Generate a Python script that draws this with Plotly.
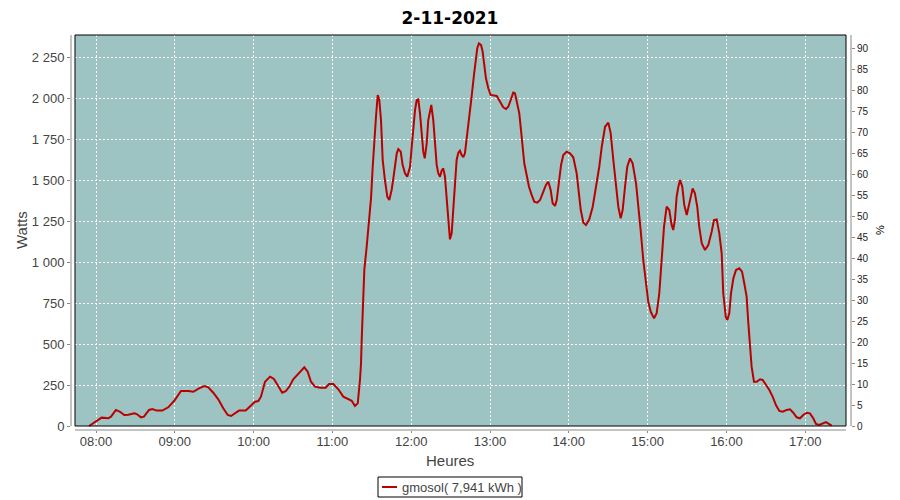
import pandas as pd
import plotly.graph_objects as go

# ---------------- data ----------------
chart_title = "2-11-2021"
series_name = "gmosol( 7,941 kWh )"
day = "2021-11-02"

# time of each sample, minutes after midnight
minutes_after_midnight = [
    474.7, 479.2, 484.3, 489.4, 491.4, 495.2, 498.3, 501.5, 504.6, 509.2,
    511.0, 514.3, 516.5, 520.4, 522.9, 526.2, 530.5, 535.0, 539.6, 544.7,
    550.3, 554.1, 558.4, 562.5, 565.5, 569.3, 573.1, 576.9, 580.3, 582.8,
    585.8, 588.9, 594.0, 598.5, 601.1, 603.6, 605.6, 608.7, 612.5, 615.5,
    618.8, 621.8, 624.4, 627.2, 630.2, 634.6, 638.6, 641.2, 643.7, 646.7,
    650.6, 654.9, 657.4, 660.7, 664.5, 668.3, 672.1, 674.7, 677.2, 679.3,
    681.0, 681.8, 682.3, 683.5, 684.3, 686.1, 687.9, 689.4, 690.7, 691.9,
    693.2, 694.5, 695.7, 697.0, 698.3, 700.0, 701.8, 703.3, 705.1, 706.4,
    707.7, 709.0, 710.2, 712.0, 713.5, 715.3, 717.0, 719.1, 720.4, 721.6,
    722.9, 724.2, 725.4, 726.7, 728.0, 729.2, 730.3, 731.8, 733.0, 734.3,
    735.3, 736.8, 738.3, 739.4, 740.6, 741.9, 743.2, 744.4, 745.7, 746.5,
    747.5, 748.8, 749.5, 750.8, 752.0, 753.3, 754.6, 755.9, 757.1, 758.4,
    759.7, 760.9, 762.2, 763.4, 764.8, 766.0, 767.8, 769.1, 770.3, 771.6,
    773.2, 774.4, 775.6, 776.9, 778.7, 780.5, 785.1, 787.6, 790.1, 792.2,
    793.9, 795.8, 797.7, 799.0, 800.8, 802.3, 803.6, 804.9, 806.1, 807.9,
    809.7, 811.7, 813.7, 816.0, 818.1, 820.6, 822.6, 824.4, 826.2, 827.7,
    829.5, 830.8, 832.5, 834.1, 835.8, 838.4, 840.9, 843.4, 846.0, 848.0,
    849.1, 851.1, 853.1, 855.6, 858.2, 860.7, 863.2, 865.1, 867.6, 870.1,
    871.9, 873.9, 876.0, 877.7, 879.5, 881.0, 882.8, 884.5, 886.6, 888.6,
    891.2, 892.9, 894.7, 896.7, 898.8, 900.5, 902.4, 904.9, 906.9, 908.9,
    910.7, 912.5, 914.5, 916.5, 918.3, 919.5, 920.8, 922.1, 923.4, 924.7,
    926.4, 927.9, 929.8, 931.7, 933.0, 934.3, 936.0, 937.8, 939.3, 941.2,
    943.7, 946.2, 948.8, 950.5, 952.6, 954.6, 956.4, 957.6, 959.5, 960.7,
    962.2, 963.5, 965.3, 967.3, 969.8, 971.9, 973.6, 975.4, 976.7, 978.0,
    979.2, 981.0, 983.1, 985.6, 987.6, 990.2, 992.7, 995.2, 997.7, 1000.3,
    1002.9, 1005.9, 1008.4, 1010.9, 1013.5, 1016.0, 1018.5, 1021.1, 1023.6, 1026.1,
    1028.2, 1030.7, 1033.8, 1035.8, 1038.3, 1040.1,
]

watts = [
    0, 26, 51, 47, 57, 98, 87, 67, 69, 77,
    73, 53, 57, 98, 104, 94, 94, 114, 154, 214,
    214, 209, 230, 244, 236, 203, 163, 108, 67, 61,
    77, 94, 94, 128, 148, 152, 179, 270, 301, 287,
    240, 203, 212, 240, 285, 321, 358, 331, 270, 240,
    234, 234, 256, 256, 224, 179, 163, 154, 122, 138,
    281, 383, 525, 728, 952, 1094, 1247, 1389, 1582, 1755,
    1887, 2020, 1989, 1867, 1623, 1501, 1399, 1379, 1440, 1511,
    1603, 1664, 1690, 1674, 1593, 1542, 1521, 1582, 1704, 1826,
    1928, 1989, 1993, 1908, 1786, 1674, 1633, 1725, 1867, 1932,
    1959, 1867, 1725, 1593, 1542, 1521, 1558, 1572, 1521, 1440,
    1298, 1176, 1139, 1176, 1318, 1481, 1623, 1668, 1680, 1654,
    1640, 1664, 1745, 1826, 1928, 2010, 2142, 2244, 2305, 2335,
    2325, 2284, 2203, 2122, 2061, 2020, 2014, 1979, 1945, 1934,
    1948, 1989, 2034, 2030, 1959, 1908, 1806, 1704, 1603, 1532,
    1460, 1410, 1369, 1363, 1379, 1430, 1471, 1491, 1440, 1359,
    1343, 1379, 1501, 1593, 1654, 1674, 1664, 1640, 1542, 1420,
    1318, 1241, 1227, 1261, 1338, 1460, 1582, 1704, 1826, 1851,
    1786, 1623, 1460, 1338, 1267, 1318, 1460, 1582, 1633, 1603,
    1481, 1359, 1196, 1013, 850, 758, 697, 657, 688, 810,
    1013, 1216, 1338, 1318, 1227, 1196, 1257, 1399, 1460, 1501,
    1460, 1349, 1288, 1359, 1410, 1450, 1420, 1338, 1216, 1115,
    1074, 1104, 1186, 1257, 1261, 1176, 1054, 810, 667, 647,
    688, 810, 901, 952, 962, 942, 871, 789, 627, 484,
    362, 270, 270, 285, 281, 250, 220, 179, 128, 92,
    87, 98, 102, 81, 53, 47, 67, 81, 77, 47,
    12, 6, 16, 24, 12, 2,
]

watt_ticks = [0, 250, 500, 750, 1000, 1250, 1500, 1750, 2000, 2250]
watt_tick_labels = ["0", "250", "500", "750", "1 000", "1 250", "1 500", "1 750", "2 000", "2 250"]
percent_ticks = list(range(0, 95, 5))
x_range = ["2021-11-02 07:40:58", "2021-11-02 17:34:52"]
watt_range = [-24.4, 2385.9]
percent_range = [-0.953, 93.17]

# ---------------- figure ----------------
times = pd.Timestamp(day) + pd.to_timedelta(minutes_after_midnight, unit="min")

LINE_RED = "#BB0000"
TEAL = "#9EC3C3"
AX_GRAY = "#888888"
TXT = "#444444"
FONT = "Liberation Sans"

# the page body adds an 8px margin, so the figure is drawn 8px smaller
# and every window position below is shifted by that offset
OFF = 8
W, H = 900 - OFF, 500 - OFF
# axis box in window pixels: left axis x=71, right axis x=851, top y=35, bottom axis y=430
AX_L, AX_R, AX_T, AX_B = 71, 851, 35, 430
L, R, T, B = AX_L - OFF, W - (AX_R - OFF), AX_T - OFF, H - (AX_B - OFF)
pw, ph = W - L - R, H - T - B


def px_x(v):
    return (v - OFF - L) / pw


def px_y(v):
    return (H - B - (v - OFF)) / ph


fig = go.Figure()
fig.add_trace(go.Scatter(
    x=times, y=watts, mode="lines", name=series_name,
    line=dict(color=LINE_RED, width=2), showlegend=False,
))
# empty trace so the right-hand % axis is drawn
fig.add_trace(go.Scatter(x=[], y=[], yaxis="y2", showlegend=False, hoverinfo="skip"))

fig.update_layout(
    width=W, height=H,
    margin=dict(l=L, r=R, t=T, b=B, pad=0),
    paper_bgcolor="white", plot_bgcolor="white",
    font=dict(family=FONT, size=13, color=TXT),
    title=dict(text="<b>" + chart_title + "</b>", x=(450 - OFF) / W, xanchor="center",
               xref="container", yref="container", y=1 - (18 - OFF) / H, yanchor="middle",
               font=dict(family="DejaVu Sans", size=17, color="black")),
    showlegend=False,
    xaxis=dict(
        type="date", range=x_range, tick0="2021-11-02 08:00", dtick=3600000,
        tickformat="%H:%M", showgrid=True, gridcolor="white", griddash="2px,2px",
        gridwidth=1, showline=False, ticks="outside", ticklen=2, tickcolor=AX_GRAY,
        zeroline=False, ticklabelstandoff=-3,
        tickfont=dict(family=FONT, size=13, color=TXT),
    ),
    yaxis=dict(
        range=watt_range, tickvals=watt_ticks, ticktext=watt_tick_labels,
        showgrid=True, gridcolor="white", griddash="2px,2px", gridwidth=1,
        showline=False, ticks="outside", ticklen=3, tickcolor=AX_GRAY, zeroline=False,
        tickfont=dict(family=FONT, size=13, color=TXT),
    ),
    yaxis2=dict(
        overlaying="y", side="right", anchor="x", range=percent_range,
        tickvals=percent_ticks, showgrid=False, zeroline=False,
        showline=False, ticks="outside", ticklen=3, tickcolor=AX_GRAY,
        tickfont=dict(family=FONT, size=10, color="#222222"),
    ),
)

# plot area (offset inside the axis lines) and its border
px0, px1, py_top, py_bot = 75, 846, 35, 426
fig.add_shape(type="rect", xref="paper", yref="paper",
              x0=px_x(px0), x1=px_x(px1), y0=px_y(py_bot), y1=px_y(py_top),
              fillcolor=TEAL, line=dict(width=0), layer="below")
fig.add_shape(type="rect", xref="paper", yref="paper",
              x0=px_x(px0), x1=px_x(px1), y0=px_y(py_bot), y1=px_y(py_top),
              fillcolor="rgba(0,0,0,0)", line=dict(color="black", width=1), layer="above")

# offset axis lines
axis_line = dict(color=AX_GRAY, width=1)
fig.add_shape(type="line", xref="paper", yref="paper", x0=px_x(AX_L), x1=px_x(AX_L),
              y0=px_y(py_bot), y1=px_y(py_top), line=axis_line)
fig.add_shape(type="line", xref="paper", yref="paper", x0=px_x(AX_R), x1=px_x(AX_R),
              y0=px_y(py_bot), y1=px_y(py_top), line=axis_line)
fig.add_shape(type="line", xref="paper", yref="paper", x0=px_x(px0), x1=px_x(px1),
              y0=px_y(AX_B), y1=px_y(AX_B), line=axis_line)

# axis titles
fig.add_annotation(text="Watts", xref="paper", yref="paper", x=px_x(21), y=px_y(230),
                   textangle=-90, showarrow=False, xanchor="center", yanchor="middle",
                   font=dict(family=FONT, size=15, color=TXT))
fig.add_annotation(text="Heures", xref="paper", yref="paper", x=px_x(450), y=px_y(460),
                   showarrow=False, xanchor="center", yanchor="middle",
                   font=dict(family=FONT, size=15, color=TXT))
fig.add_annotation(text="%", xref="paper", yref="paper", x=px_x(880), y=px_y(230),
                   textangle=-90, showarrow=False, xanchor="center", yanchor="middle",
                   font=dict(family=FONT, size=11, color="black"))

# legend box
fig.add_shape(type="rect", xref="paper", yref="paper",
              x0=px_x(378), x1=px_x(522), y0=px_y(497), y1=px_y(477),
              fillcolor="white", line=dict(color="black", width=1))
fig.add_shape(type="line", xref="paper", yref="paper",
              x0=px_x(382), x1=px_x(397), y0=px_y(487), y1=px_y(487),
              line=dict(color=LINE_RED, width=2))
fig.add_annotation(text=series_name, xref="paper", yref="paper", x=px_x(400), y=px_y(487.5),
                   showarrow=False, xanchor="left", yanchor="middle",
                   font=dict(family=FONT, size=13, color=TXT))

fig.write_html("out.html")
